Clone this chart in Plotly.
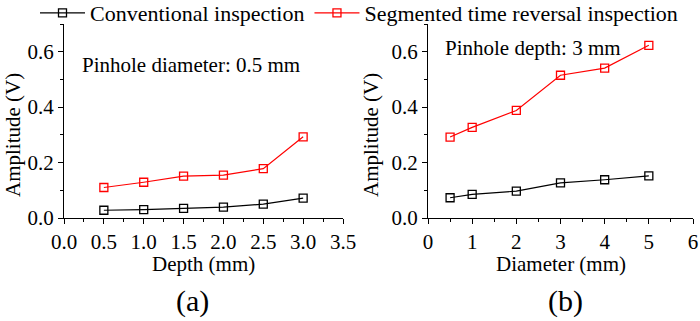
import plotly.graph_objects as go

depth = [0.5, 1.0, 1.5, 2.0, 2.5, 3.0]
conv_depth = [0.028, 0.030, 0.035, 0.039, 0.050, 0.072]
str_depth = [0.110, 0.129, 0.151, 0.155, 0.178, 0.293]

diameter = [0.5, 1, 2, 3, 4, 5]
conv_diam = [0.073, 0.085, 0.097, 0.127, 0.138, 0.152]
str_diam = [0.292, 0.327, 0.388, 0.515, 0.541, 0.623]

names = ["Conventional inspection", "Segmented time reversal inspection"]
colors = ["black", "#ff0000"]

FONT = "Liberation Serif, Times New Roman, serif"
W, H = 700, 321

fig = go.Figure()

def add(x, y, i, xa, ya, show):
    fig.add_trace(go.Scatter(
        x=x, y=y, mode="lines+markers", name=names[i],
        line=dict(color=colors[i], width=1.2),
        marker=dict(symbol="square-open", size=8, color=colors[i], line=dict(width=1.3)),
        xaxis=xa, yaxis=ya, showlegend=show))

add(depth, conv_depth, 0, "x", "y", True)
add(depth, str_depth, 1, "x", "y", True)
add(diameter, conv_diam, 0, "x2", "y2", False)
add(diameter, str_diam, 1, "x2", "y2", False)

minor_common = dict(ticklen=3, tickwidth=1.2, ticks="outside", tickcolor="black")
axis_common = dict(
    showline=True, linecolor="black", linewidth=1.2, showgrid=False, zeroline=False,
    ticks="outside", ticklen=5, tickwidth=1.2, tickcolor="black", automargin=False,
    tickfont=dict(family=FONT, size=21, color="black"),
)

fig.update_layout(
    width=W, height=H,
    margin=dict(l=0, r=0, t=0, b=0, autoexpand=False),
    plot_bgcolor="white", paper_bgcolor="white",
    font=dict(family=FONT, color="black"),
    xaxis=dict(domain=[64 / W, 343 / W], range=[0, 3.5], dtick=0.5, tickformat=".1f",
               anchor="y", minor=dict(dtick=0.25, **minor_common), **axis_common),
    yaxis=dict(domain=[1 - 218 / H, 1 - 24 / H], range=[0, 0.7], dtick=0.2, tickformat=".1f",
               anchor="x", minor=dict(dtick=0.1, **minor_common), **axis_common),
    xaxis2=dict(domain=[428 / W, 693 / W], range=[0, 6], dtick=1,
                anchor="y2", minor=dict(dtick=0.5, **minor_common), **axis_common),
    yaxis2=dict(domain=[1 - 218 / H, 1 - 24 / H], range=[0, 0.7], dtick=0.2, tickformat=".1f",
                anchor="x2", minor=dict(dtick=0.1, **minor_common), **axis_common),
    legend=dict(orientation="h", x=35 / W, y=1 - 13 / H, xanchor="left", yanchor="middle",
                font=dict(family=FONT, size=22, color="black"), itemwidth=45,
                bgcolor="rgba(0,0,0,0)", tracegroupgap=0),
)

def ann(text, px, py, size, xanchor="center", angle=0):
    fig.add_annotation(text=text, x=px / W, y=1 - py / H, xref="paper", yref="paper",
                       showarrow=False, xanchor=xanchor, yanchor="middle", textangle=angle,
                       font=dict(family=FONT, size=size, color="black"))

ann("Pinhole diameter: 0.5 mm", 80, 65, 21, "left")
ann("Pinhole depth: 3 mm", 443, 48, 21, "left")
ann("Depth (mm)", 203, 264, 21)
ann("Diameter (mm)", 561, 264, 21)
ann("Amplitude (V)", 13, 135, 21, angle=-90)
ann("Amplitude (V)", 371, 135, 21, angle=-90)
ann("(a)", 192, 301, 30)
ann("(b)", 565, 301, 30)

fig.write_html("out.html")
